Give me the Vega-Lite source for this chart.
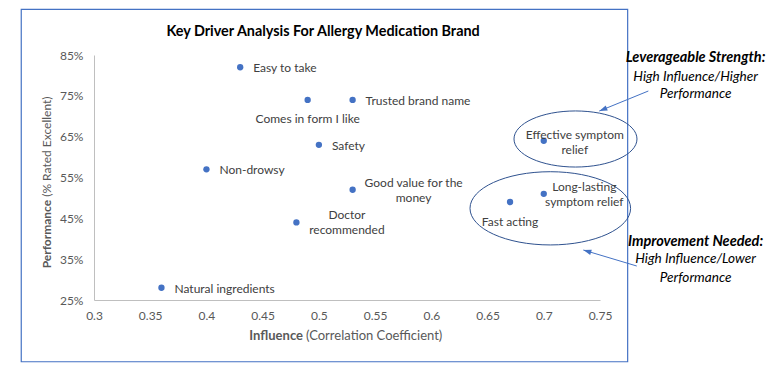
{
  "$schema": "https://vega.github.io/schema/vega-lite/v6.json",
  "width": 506,
  "height": 245,
  "autosize": {"type": "none"},
  "padding": {"left": 94, "top": 55, "right": 170, "bottom": 78},
  "background": "white",
  "config": {"view": {"stroke": null}, "font": "Lato", "text": {"font": "Lato"}},
  "datasets": {
    "drivers": [
      {"attribute": "Easy to take", "influence": 0.43, "performance": 0.82},
      {"attribute": "Comes in form I like", "influence": 0.49, "performance": 0.74},
      {"attribute": "Trusted brand name", "influence": 0.53, "performance": 0.74},
      {"attribute": "Safety", "influence": 0.50, "performance": 0.63},
      {"attribute": "Non-drowsy", "influence": 0.40, "performance": 0.57},
      {"attribute": "Good value for the money", "influence": 0.53, "performance": 0.52},
      {"attribute": "Doctor recommended", "influence": 0.48, "performance": 0.44},
      {"attribute": "Natural ingredients", "influence": 0.36, "performance": 0.28},
      {"attribute": "Effective symptom relief", "influence": 0.70, "performance": 0.64},
      {"attribute": "Fast acting", "influence": 0.67, "performance": 0.49},
      {"attribute": "Long-lasting symptom relief", "influence": 0.70, "performance": 0.51}
    ],
    "one": [{"id": 1}]
  },
  "data": {"name": "drivers"},
  "layer": [
    {
      "data": {"name": "one"},
      "mark": {"type": "rect", "fillOpacity": 0, "stroke": "#4472C4", "strokeWidth": 1.2},
      "encoding": {
        "x": {"datum": 0.2353, "type": "quantitative"},
        "x2": {"datum": 0.7746},
        "y": {"datum": 0.9619, "type": "quantitative"},
        "y2": {"datum": 0.0988}
      }
    },
    {
      "data": {"name": "one"},
      "mark": {"type": "point", "shape": "M -1 0 A 1 0.456 0 1 1 1 0 A 1 0.456 0 1 1 -1 0 Z", "size": 15129, "filled": false, "color": "#2F528F", "strokeWidth": 1, "opacity": 1},
      "encoding": {
        "x": {"datum": 0.7282, "type": "quantitative"},
        "y": {"datum": 0.6443, "type": "quantitative"}
      }
    },
    {
      "data": {"name": "one"},
      "mark": {"type": "point", "shape": "M -1 0 A 1 0.456 0 1 1 1 0 A 1 0.456 0 1 1 -1 0 Z", "size": 25792, "filled": false, "color": "#2F528F", "strokeWidth": 1, "opacity": 1},
      "encoding": {
        "x": {"datum": 0.7058, "type": "quantitative"},
        "y": {"datum": 0.4745, "type": "quantitative"}
      }
    },
    {
      "data": {"name": "one"},
      "mark": {"type": "rule", "color": "#4472C4", "strokeWidth": 1},
      "encoding": {
        "x": {"datum": 0.793, "type": "quantitative"},
        "y": {"datum": 0.7618, "type": "quantitative"},
        "x2": {"datum": 0.7494},
        "y2": {"datum": 0.7128}
      }
    },
    {
      "data": {"name": "one"},
      "mark": {"type": "point", "shape": "M 0 0 L -2 -0.7 L -2 0.7 Z", "size": 64, "filled": true, "color": "#4472C4", "opacity": 1, "angle": 157.8},
      "encoding": {
        "x": {"datum": 0.7494, "type": "quantitative"},
        "y": {"datum": 0.7128, "type": "quantitative"}
      }
    },
    {
      "data": {"name": "one"},
      "mark": {"type": "rule", "color": "#4472C4", "strokeWidth": 1},
      "encoding": {
        "x": {"datum": 0.7827, "type": "quantitative"},
        "y": {"datum": 0.3332, "type": "quantitative"},
        "x2": {"datum": 0.7352},
        "y2": {"datum": 0.3724}
      }
    },
    {
      "data": {"name": "one"},
      "mark": {"type": "point", "shape": "M 0 0 L -2 -0.7 L -2 0.7 Z", "size": 64, "filled": true, "color": "#4472C4", "opacity": 1, "angle": 196.7},
      "encoding": {
        "x": {"datum": 0.7352, "type": "quantitative"},
        "y": {"datum": 0.3724, "type": "quantitative"}
      }
    },
    {
      "mark": {"type": "point", "filled": true, "size": 40, "color": "#4472C4", "opacity": 1},
      "encoding": {
        "x": {
          "field": "influence", "type": "quantitative",
          "scale": {"domain": [0.3, 0.75], "nice": false, "zero": false},
          "axis": {
            "values": [0.3, 0.35, 0.4, 0.45, 0.5, 0.55, 0.6, 0.65, 0.7, 0.75],
            "format": "~g", "grid": false, "ticks": false, "tickSize": 0,
            "domainColor": "#BFBFBF", "domainWidth": 1,
            "labelColor": "#595959", "labelFont": "Lato", "labelFontSize": 12,
            "labelPadding": 10, "labelFlush": false, "labelOverlap": false, "title": null
          }
        },
        "y": {
          "field": "performance", "type": "quantitative",
          "scale": {"domain": [0.25, 0.85], "nice": false, "zero": false},
          "axis": {
            "values": [0.25, 0.35, 0.45, 0.55, 0.65, 0.75, 0.85],
            "format": ".0%", "grid": false, "ticks": false, "tickSize": 0,
            "domainColor": "#BFBFBF", "domainWidth": 1,
            "labelColor": "#595959", "labelFont": "Lato", "labelFontSize": 12,
            "labelPadding": 11, "labelFlush": false, "labelOverlap": false, "title": null
          }
        }
      }
    },
    {
      "transform": [{"filter": {"field": "attribute", "oneOf": ["Easy to take", "Trusted brand name", "Safety", "Non-drowsy", "Natural ingredients"]}}],
      "mark": {"type": "text", "align": "left", "baseline": "middle", "dx": 13, "dy": 1, "fontSize": 12, "color": "#404040"},
      "encoding": {
        "x": {"field": "influence", "type": "quantitative"},
        "y": {"field": "performance", "type": "quantitative"},
        "text": {"field": "attribute"}
      }
    },
    {
      "transform": [{"filter": {"field": "attribute", "oneOf": ["Comes in form I like", "Fast acting"]}}],
      "mark": {"type": "text", "align": "center", "baseline": "middle", "dy": 19.5, "fontSize": 12, "color": "#404040"},
      "encoding": {
        "x": {"field": "influence", "type": "quantitative"},
        "y": {"field": "performance", "type": "quantitative"},
        "text": {"field": "attribute"}
      }
    },
    {
      "transform": [{"filter": {"field": "attribute", "equal": "Good value for the money"}}],
      "mark": {"type": "text", "align": "center", "baseline": "middle", "dx": 61, "dy": -6.5, "fontSize": 12, "lineHeight": 15, "color": "#404040"},
      "encoding": {
        "x": {"field": "influence", "type": "quantitative"},
        "y": {"field": "performance", "type": "quantitative"},
        "text": {"value": ["Good value for the", "money"]}
      }
    },
    {
      "transform": [{"filter": {"field": "attribute", "equal": "Doctor recommended"}}],
      "mark": {"type": "text", "align": "center", "baseline": "middle", "dx": 50.5, "dy": -7.5, "fontSize": 12, "lineHeight": 15, "color": "#404040"},
      "encoding": {
        "x": {"field": "influence", "type": "quantitative"},
        "y": {"field": "performance", "type": "quantitative"},
        "text": {"value": ["Doctor", "recommended"]}
      }
    },
    {
      "transform": [{"filter": {"field": "attribute", "equal": "Effective symptom relief"}}],
      "mark": {"type": "text", "align": "center", "baseline": "middle", "dx": 31, "dy": -6, "fontSize": 12, "lineHeight": 15, "color": "#404040"},
      "encoding": {
        "x": {"field": "influence", "type": "quantitative"},
        "y": {"field": "performance", "type": "quantitative"},
        "text": {"value": ["Effective symptom", "relief"]}
      }
    },
    {
      "transform": [{"filter": {"field": "attribute", "equal": "Long-lasting symptom relief"}}],
      "mark": {"type": "text", "align": "center", "baseline": "middle", "dx": 40.5, "dy": -7, "fontSize": 12, "lineHeight": 15, "color": "#404040"},
      "encoding": {
        "x": {"field": "influence", "type": "quantitative"},
        "y": {"field": "performance", "type": "quantitative"},
        "text": {"value": ["Long-lasting", "symptom relief"]}
      }
    },
    {
      "data": {"name": "one"},
      "mark": {"type": "text", "align": "center", "baseline": "middle", "fontSize": 14.4, "fontWeight": "bold", "color": "#000000"},
      "encoding": {
        "x": {"datum": 0.5037, "type": "quantitative"},
        "y": {"datum": 0.906, "type": "quantitative"},
        "text": {"value": "Key Driver Analysis For Allergy Medication Brand"}
      }
    },
    {
      "data": {"name": "one"},
      "mark": {"type": "text", "align": "right", "baseline": "middle", "dx": -1.5, "fontSize": 13, "fontWeight": "bold", "color": "#595959"},
      "encoding": {
        "x": {"datum": 0.4872, "type": "quantitative"},
        "y": {"datum": 0.1618, "type": "quantitative"},
        "text": {"value": "Influence"}
      }
    },
    {
      "data": {"name": "one"},
      "mark": {"type": "text", "align": "left", "baseline": "middle", "dx": 1.5, "fontSize": 13, "color": "#595959"},
      "encoding": {
        "x": {"datum": 0.4872, "type": "quantitative"},
        "y": {"datum": 0.1618, "type": "quantitative"},
        "text": {"value": "(Correlation Coefficient)"}
      }
    },
    {
      "data": {"name": "one"},
      "mark": {"type": "text", "align": "right", "baseline": "middle", "angle": 270, "dx": -1.5, "fontSize": 12, "fontWeight": "bold", "color": "#595959"},
      "encoding": {
        "x": {"datum": 0.2582, "type": "quantitative"},
        "y": {"datum": 0.499, "type": "quantitative"},
        "text": {"value": "Performance"}
      }
    },
    {
      "data": {"name": "one"},
      "mark": {"type": "text", "align": "left", "baseline": "middle", "angle": 270, "dx": 1.5, "fontSize": 12, "color": "#595959"},
      "encoding": {
        "x": {"datum": 0.2582, "type": "quantitative"},
        "y": {"datum": 0.499, "type": "quantitative"},
        "text": {"value": "(% Rated Excellent)"}
      }
    },
    {
      "data": {"name": "one"},
      "mark": {"type": "text", "align": "center", "baseline": "middle", "fontSize": 14.5, "fontWeight": "bold", "fontStyle": "italic", "color": "#000000"},
      "encoding": {
        "x": {"datum": 0.835, "type": "quantitative"},
        "y": {"datum": 0.8419, "type": "quantitative"},
        "text": {"value": "Leverageable Strength:"}
      }
    },
    {
      "data": {"name": "one"},
      "mark": {"type": "text", "align": "center", "baseline": "middle", "fontSize": 13.6, "fontStyle": "italic", "lineHeight": 17.5, "color": "#000000"},
      "encoding": {
        "x": {"datum": 0.835, "type": "quantitative"},
        "y": {"datum": 0.7969, "type": "quantitative"},
        "text": {"value": ["High Influence/Higher", "Performance"]}
      }
    },
    {
      "data": {"name": "one"},
      "mark": {"type": "text", "align": "center", "baseline": "middle", "fontSize": 14.5, "fontWeight": "bold", "fontStyle": "italic", "color": "#000000"},
      "encoding": {
        "x": {"datum": 0.835, "type": "quantitative"},
        "y": {"datum": 0.3927, "type": "quantitative"},
        "text": {"value": "Improvement Needed:"}
      }
    },
    {
      "data": {"name": "one"},
      "mark": {"type": "text", "align": "center", "baseline": "middle", "fontSize": 13.6, "fontStyle": "italic", "lineHeight": 19, "color": "#000000"},
      "encoding": {
        "x": {"datum": 0.835, "type": "quantitative"},
        "y": {"datum": 0.3496, "type": "quantitative"},
        "text": {"value": ["High Influence/Lower", "Performance"]}
      }
    }
  ]
}
